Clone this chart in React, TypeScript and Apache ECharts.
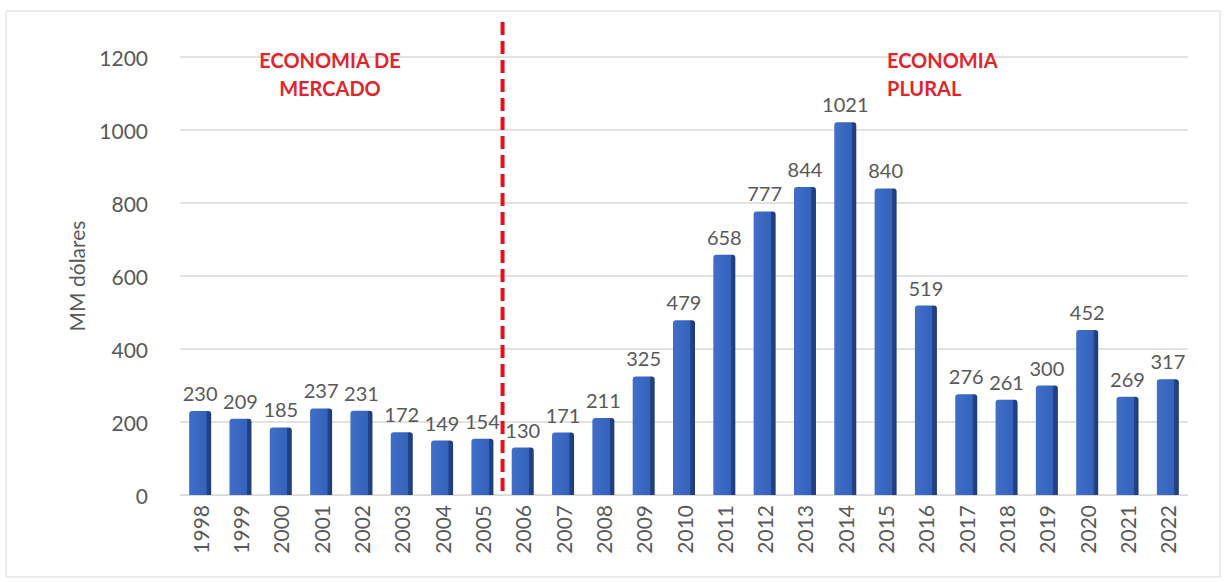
import React, { useEffect, useRef } from "react";
import * as echarts from "echarts";

const years = ["1998","1999","2000","2001","2002","2003","2004","2005","2006","2007","2008","2009","2010","2011","2012","2013","2014","2015","2016","2017","2018","2019","2020","2021","2022"];
const values = [230,209,185,237,231,172,149,154,130,171,211,325,479,658,777,844,1021,840,519,276,261,300,452,269,317];
const yTicks = { min: 0, max: 1200, interval: 200 };
const leftNote = "ECONOMIA DE\nMERCADO";
const rightNote = "ECONOMIA\nPLURAL";
const yTitle = "MM dólares";

const FONT = "Lato, 'Liberation Sans', sans-serif";

export default function App() {
  const ref = useRef<HTMLDivElement>(null);
  useEffect(() => {
    const chart = echarts.init(ref.current!, undefined, { renderer: "svg" });
    chart.setOption({
      animation: false,
      backgroundColor: "#ffffff",
      grid: { left: 180, right: 39, top: 57, bottom: 87 },
      xAxis: {
        type: "category",
        data: years,
        axisLine: { show: true, lineStyle: { color: "#d9d9d9" } },
        axisTick: { show: false },
        axisLabel: { rotate: 90, color: "#595959", fontSize: 21, fontFamily: FONT, margin: 10 },
      },
      yAxis: {
        type: "value",
        min: yTicks.min,
        max: yTicks.max,
        interval: yTicks.interval,
        name: yTitle,
        nameLocation: "middle",
        nameGap: 93,
        nameTextStyle: { color: "#595959", fontSize: 21, fontFamily: FONT },
        axisLine: { show: false },
        axisTick: { show: false },
        axisLabel: {
          color: "#595959",
          fontSize: 21,
          fontFamily: FONT,
          margin: 32,
          formatter: (v: number) => String(v),
        },
        splitLine: { lineStyle: { color: "#d9d9d9", width: 1.5 } },
      },
      series: [
        {
          type: "bar",
          data: values,
          barWidth: 22,
          itemStyle: {
            borderRadius: [3, 3, 0, 0],
            color: new echarts.graphic.LinearGradient(0, 0, 1, 0, [
              { offset: 0, color: "#3f6fc9" },
              { offset: 0.78, color: "#3562bb" },
              { offset: 0.8, color: "#24448a" },
              { offset: 1, color: "#1f3b78" },
            ]),
          },
          label: {
            show: true,
            position: "top",
            distance: 8,
            color: "#595959",
            fontSize: 20,
            fontFamily: FONT,
          },
        },
      ],
    });
    const x1 = chart.convertToPixel({ xAxisIndex: 0 }, "2005") as number;
    const x2 = chart.convertToPixel({ xAxisIndex: 0 }, "2006") as number;
    const xm = (x1 + x2) / 2;
    const y0 = chart.convertToPixel({ yAxisIndex: 0 }, 0) as number;
    chart.setOption({
      graphic: [
        {
          type: "rect",
          shape: { x: 6, y: 11, width: 1214, height: 566 },
          style: { fill: "none", stroke: "#d9d9d9", lineWidth: 1 },
          silent: true,
        },
        {
          type: "line",
          shape: { x1: xm, y1: 22, x2: xm, y2: y0 },
          style: { stroke: "#e8101a", lineWidth: 4, lineDash: [13, 6] },
          z: 100,
        },
        {
          type: "text",
          x: 330,
          y: 46,
          style: {
            text: leftNote,
            fill: "#e0262c",
            font: `bold 20px ${FONT}`,
            align: "center",
            lineHeight: 28,
          },
        },
        {
          type: "text",
          x: 887,
          y: 46,
          style: {
            text: rightNote,
            fill: "#e0262c",
            font: `bold 20px ${FONT}`,
            align: "left",
            lineHeight: 28,
          },
        },
      ],
    });
    return () => chart.dispose();
  }, []);
  return (
    <div
      ref={ref}
      style={{ position: "absolute", left: 0, top: 0, width: 1227, height: 582 }}
    />
  );
}
